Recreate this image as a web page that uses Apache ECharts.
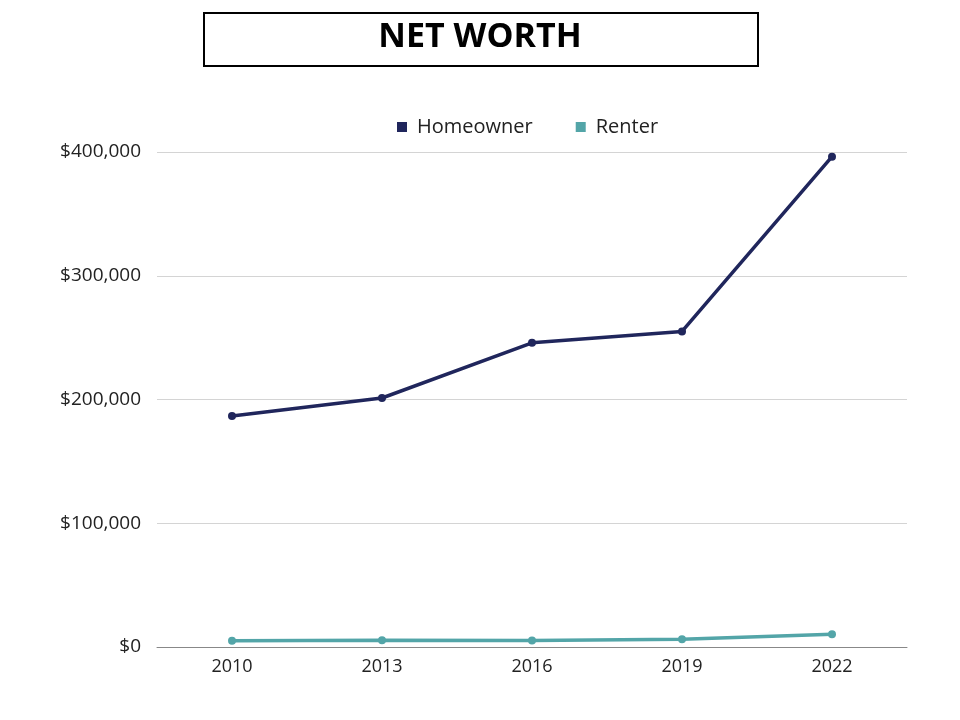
<!DOCTYPE html>
<html><head><meta charset="utf-8">
<script src="https://cdn.jsdelivr.net/npm/echarts@6/dist/echarts.min.js"></script>
<style>html,body{margin:0;padding:0;background:#fff}#c{width:960px;height:720px}</style>
</head><body><div id="c"></div>
<script>
const years = ['2010', '2013', '2016', '2019', '2022'];
const homeowner = [186700, 201200, 245800, 255000, 396200];
const renter = [5100, 5400, 5200, 6300, 10400];
const yTicks = [0, 100000, 200000, 300000, 400000];

const FONT = '"Open Sans", Lato, sans-serif';
const chart = echarts.init(document.getElementById('c'), null, {renderer: 'canvas'});
chart.setOption({
  backgroundColor: '#fff',
  animation: false,
  graphic: [
    {type: 'rect', left: 203, top: 12, shape: {width: 554, height: 53},
     style: {fill: '#fff', stroke: '#000', lineWidth: 2}},
    {type: 'text', left: 'center', top: 20,
     style: {text: 'NET WORTH', fill: '#000', font: 'bold 34px ' + FONT}}
  ],
  legend: {
    top: 112, left: 392, itemGap: 43, itemWidth: 10, itemHeight: 10,
    icon: 'rect',
    textStyle: {fontFamily: FONT, fontSize: 20, color: '#222', padding: [0, 0, 0, 5]},
    data: ['Homeowner', 'Renter']
  },
  grid: {left: 157, right: 53, top: 152, bottom: 73},
  xAxis: {
    type: 'category', data: years, boundaryGap: true,
    axisLine: {lineStyle: {color: '#888', width: 1}},
    axisTick: {show: false},
    axisLabel: {fontFamily: FONT, fontSize: 18, color: '#222', margin: 11}
  },
  yAxis: {
    type: 'value', min: yTicks[0], max: yTicks[yTicks.length - 1], interval: 100000,
    axisLine: {show: false}, axisTick: {show: false},
    splitLine: {lineStyle: {color: '#d4d4d4', width: 1}},
    axisLabel: {fontFamily: FONT, fontSize: 19, color: '#222', margin: 16,
      formatter: v => '$' + v.toLocaleString('en-US')}
  },
  series: [
    {name: 'Homeowner', type: 'line', data: homeowner, symbol: 'circle', symbolSize: 8,
     lineStyle: {width: 3.5, color: '#20265c'}, itemStyle: {color: '#20265c'}},
    {name: 'Renter', type: 'line', data: renter, symbol: 'circle', symbolSize: 8,
     lineStyle: {width: 3.5, color: '#53a5a8'}, itemStyle: {color: '#53a5a8'}}
  ]
});
</script></body></html>
